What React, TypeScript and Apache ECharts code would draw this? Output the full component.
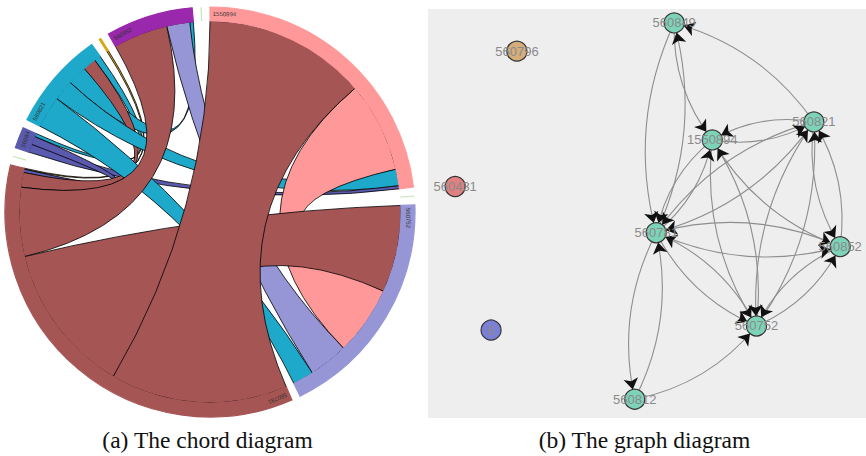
import React, { useEffect, useRef } from 'react';
import * as echarts from 'echarts';

// ---------------- Chord diagram data ----------------
const chordNames = ['1550894', '560796', '560752', '560781', '560431', '560849', '560821', '560812', '560852', '6'];
const chordColors = ['#FF9999', '#C6E6BC', '#9696D6', '#A65555', '#C6E6BC', '#5A5AAE', '#1EA9CA', '#D4AA10', '#9A28AC', '#C6E6BC'];
// chordMatrix[i][j]: share of group i that flows to group j
const chordMatrix = [
  [0, 0, 27.5, 49.5, 0, 1, 5, 0, 0, 0],
  [0, 0, 0, 0, 0, 0, 0, 0, 0, 0],
  [21, 0, 0, 26.5, 0, 0, 6.4, 0, 12, 0],
  [54, 0, 46, 0, 0, 1, 4.5, 0.3, 21, 0],
  [0, 0, 0, 0, 0, 0, 0, 0, 0, 0],
  [2.5, 0, 0, 2.5, 0, 0, 1, 0, 0, 0],
  [6.3, 0, 9.7, 4, 0, 2, 0, 0, 6, 0],
  [0, 0, 0, 0.5, 0, 0, 0, 0, 0, 0],
  [0, 0, 7, 16.6, 0, 0, 1.1, 0, 0, 0],
  [0, 0, 0, 0, 0, 0, 0, 0, 0, 0],
];
const chordPad = 2.5;

// ---------------- Graph diagram data ----------------
const graphNodeNames = ['560849', '560796', '1550894', '560821', '560431', '560781', '560852', '560752', '6', '560812'];
const graphNodeX = [56.2, 20.3, 64.9, 88.1, 6.2, 52.1, 94.1, 75.0, 14.4, 47.2];
const graphNodeY = [3.4, 10.3, 32.0, 27.6, 43.4, 54.7, 58.1, 77.5, 78.5, 95.4];
const graphNodeColors = ['#7DD3B8', '#D4AD7B', '#7DD3B8', '#7DD3B8', '#E08080', '#7DD3B8', '#7DD3B8', '#7DD3B8', '#7B7FD6', '#7DD3B8'];
const graphLinks: [string, string][] = [
  ['560821', '560849'],
  ['560781', '560849'],
  ['560849', '1550894'],
  ['560821', '1550894'],
  ['560781', '1550894'],
  ['560752', '1550894'],
  ['1550894', '560821'],
  ['560781', '560821'],
  ['560752', '560821'],
  ['560852', '560821'],
  ['560849', '560781'],
  ['1550894', '560781'],
  ['560821', '560781'],
  ['560852', '560781'],
  ['560752', '560781'],
  ['560812', '560781'],
  ['560821', '560852'],
  ['1550894', '560852'],
  ['560781', '560852'],
  ['560752', '560852'],
  ['560781', '560752'],
  ['1550894', '560752'],
  ['560821', '560752'],
  ['560852', '560752'],
  ['560812', '560752'],
  ['560781', '560812'],
];

const captions = ['(a) The chord diagram', '(b) The graph diagram'];

// ---------------- chord layout (d3-style, subgroups sorted descending) ----------------
function chordLayout(matrix: number[][], pad: number) {
  const n = matrix.length;
  const groups: { start: number; end: number }[] = [];
  const sub: { [k: number]: [number, number] }[] = [];
  let a = 0;
  for (let i = 0; i < n; i++) {
    const order = matrix[i]
      .map((_, j) => j)
      .filter((j) => matrix[i][j] > 0)
      .sort((p, q) => matrix[i][q] - matrix[i][p]);
    const start = a;
    sub[i] = {};
    for (const j of order) {
      sub[i][j] = [a, a + matrix[i][j]];
      a += matrix[i][j];
    }
    groups.push({ start, end: a });
    a += pad;
  }
  const chords: { src: number; tgt: number; s: [number, number]; t: [number, number]; avg: number }[] = [];
  for (let i = 0; i < n; i++) {
    for (let j = i + 1; j < n; j++) {
      const vij = matrix[i][j];
      const vji = matrix[j][i];
      if (!vij && !vji) continue;
      const src = vji > vij ? j : i;
      const tgt = src === i ? j : i;
      const s = sub[src][tgt] || [groups[src].end, groups[src].end];
      const t = sub[tgt][src] || [groups[tgt].end, groups[tgt].end];
      chords.push({ src, tgt, s, t, avg: (vij + vji) / 2 });
    }
  }
  chords.sort((p, q) => p.avg - q.avg);
  return { groups, chords, total: a };
}

const R_IN = 191 / 205;
const R_LABEL = 198 / 205;

function fmt(p: number[]) {
  return p[0].toFixed(2) + ' ' + p[1].toFixed(2);
}

export default function App() {
  const ref = useRef<HTMLDivElement>(null);
  useEffect(() => {
    document.body.style.margin = '0';
    if (!ref.current) return;
    const chart = echarts.init(ref.current, null, { renderer: 'svg' });
    const layout = chordLayout(chordMatrix, chordPad);
    const total = layout.total;

    const arc = (api: any, r: number, a0: number, a1: number, sweep: number) => {
      if (Math.abs(a1 - a0) < 1e-6) return '';
      const c = api.coord([0, 0]);
      const p = api.coord([r, a1]);
      const R = Math.hypot(p[0] - c[0], p[1] - c[1]);
      const large = Math.abs(a1 - a0) / total > 0.5 ? 1 : 0;
      return 'A ' + R.toFixed(2) + ' ' + R.toFixed(2) + ' 0 ' + large + ' ' + sweep + ' ' + fmt(p) + ' ';
    };

    const option: any = {
      animation: false,
      polar: { center: [210, 212], radius: 205 },
      angleAxis: { type: 'value', min: 0, max: total, startAngle: 90, clockwise: true, show: false },
      radiusAxis: { type: 'value', min: 0, max: 1, show: false },
      grid: { left: 428, top: 9, width: 438, height: 409, show: true, backgroundColor: '#EEEEEE', borderWidth: 0 },
      xAxis: { type: 'value', min: 0, max: 100, show: false },
      yAxis: { type: 'value', min: 0, max: 100, inverse: true, show: false },
      graphic: captions.map((text, k) => ({
        type: 'text',
        x: k === 0 ? 207.5 : 644.5,
        y: 440,
        silent: true,
        style: {
          text,
          font: '23.5px "Liberation Serif", "Times New Roman", serif',
          fill: '#111',
          align: 'center',
          textAlign: 'center',
          verticalAlign: 'middle',
          textVerticalAlign: 'middle',
        },
      })),
      series: [
        {
          type: 'custom',
          coordinateSystem: 'polar',
          silent: true,
          data: layout.chords.map((ch) => [ch.s[0], ch.s[1], ch.t[0], ch.t[1]]),
          renderItem: (params: any, api: any) => {
            const ch = layout.chords[params.dataIndex];
            const s0 = api.value(0), s1 = api.value(1), t0 = api.value(2), t1 = api.value(3);
            const c = api.coord([0, 0]);
            const ps0 = api.coord([R_IN, s0]);
            const pt0 = api.coord([R_IN, t0]);
            const d =
              'M ' + fmt(ps0) + ' ' + arc(api, R_IN, s0, s1, 1) +
              'Q ' + fmt(c) + ' ' + fmt(pt0) + ' ' + arc(api, R_IN, t0, t1, 1) +
              'Q ' + fmt(c) + ' ' + fmt(ps0) + ' Z';
            return {
              type: 'path',
              shape: { pathData: d },
              style: { fill: chordColors[ch.src], stroke: '#000', lineWidth: 0.8 },
            };
          },
        },
        {
          type: 'custom',
          coordinateSystem: 'polar',
          silent: true,
          data: layout.groups.map((g) => [g.start, g.end]),
          renderItem: (params: any, api: any) => {
            const i = params.dataIndex;
            const a0 = api.value(0), a1 = api.value(1);
            const c = api.coord([0, 0]);
            const pi0 = api.coord([R_IN, a0]);
            const po0 = api.coord([1, a0]);
            const pi1 = api.coord([R_IN, a1]);
            const d =
              'M ' + fmt(pi0) + ' L ' + fmt(po0) + ' ' + arc(api, 1, a0, a1, 1) +
              'L ' + fmt(pi1) + ' ' + arc(api, R_IN, a1, a0, 0) + 'Z';
            const children: any[] = [
              { type: 'path', shape: { pathData: d }, style: { fill: chordColors[i], stroke: chordColors[i], lineWidth: 1.2 } },
            ];
            if (a1 - a0 > 1) {
              const lp = api.coord([R_LABEL, a0 + 0.8]);
              const le = api.coord([R_LABEL, a1]);
              const theta = Math.atan2(lp[0] - c[0], c[1] - lp[1]);
              const width = Math.hypot(le[0] - lp[0], le[1] - lp[1]);
              children.push({
                type: 'text',
                x: lp[0],
                y: lp[1],
                rotation: -theta,
                style: {
                  text: chordNames[i],
                  fill: '#333',
                  font: '6px "Liberation Sans", Arial, sans-serif',
                  align: 'left',
                  verticalAlign: 'middle',
                  width,
                  overflow: 'truncate',
                  ellipsis: '',
                },
              });
            }
            return { type: 'group', children };
          },
        },
        {
          type: 'graph',
          layout: 'none',
          coordinateSystem: 'cartesian2d',
          silent: true,
          z: 2,
          symbol: 'circle',
          symbolSize: 20,
          data: graphNodeNames.map((name, i) => ({
            name,
            value: [graphNodeX[i], graphNodeY[i]],
            itemStyle: { color: graphNodeColors[i], borderColor: '#333', borderWidth: 1.2 },
          })),
          links: graphLinks.map(([source, target]) => ({ source, target })),
          edgeSymbol: ['none', 'none'],
          lineStyle: { color: '#8E8E8E', width: 1.1, curveness: -0.18, opacity: 1 },
          label: { show: false },
        },
        {
          type: 'graph',
          layout: 'none',
          coordinateSystem: 'cartesian2d',
          silent: true,
          z: 3,
          symbol: 'circle',
          symbolSize: 20,
          data: graphNodeNames.map((name, i) => ({
            name,
            value: [graphNodeX[i], graphNodeY[i]],
          })),
          itemStyle: { color: 'rgba(0,0,0,0)', borderWidth: 0 },
          links: graphLinks.map(([source, target]) => ({ source, target })),
          edgeSymbol: ['none', 'arrow'],
          edgeSymbolSize: 11,
          lineStyle: { color: '#111', width: 0, curveness: -0.18, opacity: 1 },
          label: {
            show: true,
            position: 'inside',
            formatter: (p: any) => String(p.name),
            color: '#8A8A8A',
            opacity: 1,
            fontSize: 13,
            fontFamily: '"Liberation Sans", Arial, sans-serif',
          },
        },
      ],
    };
    chart.setOption(option);
    return () => chart.dispose();
  }, []);
  return <div ref={ref} style={{ width: 866, height: 456 }} />;
}
